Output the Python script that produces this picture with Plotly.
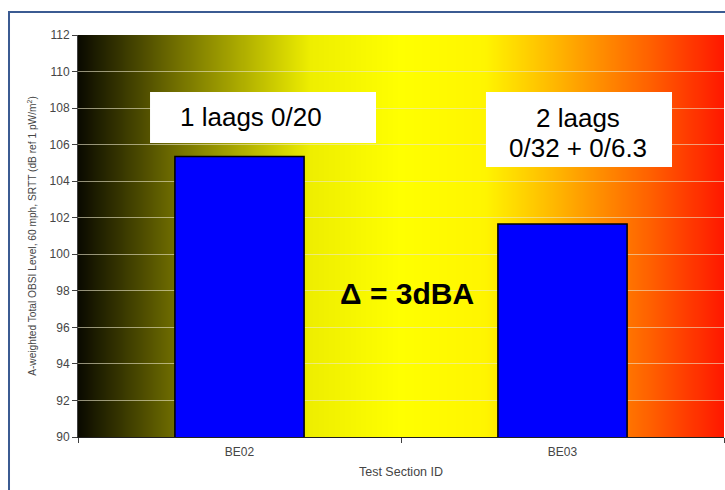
import base64
import struct
import zlib

import numpy as np
import plotly.graph_objects as go

# ---- data -------------------------------------------------------------
sections = ["BE02", "BE03"]
obsi_levels = [105.35, 101.65]          # dB ref 1 pW/m^2

box_lines_1 = ["1 laags 0/20"]
box_lines_2 = ["2 laags", "0/32 + 0/6.3"]
delta_label = "\u0394 = 3dBA"

y_ticks = list(range(90, 113, 2))

# background colour ramp across the plot area (fraction, rgb)
ramp_stops = [
    (0.00, (10, 10, 0)),
    (0.15, (112, 110, 0)),
    (0.36, (238, 238, 0)),
    (0.50, (255, 255, 0)),
    (0.63, (255, 245, 0)),
    (0.75, (255, 176, 0)),
    (0.88, (255, 100, 0)),
    (1.00, (255, 24, 0)),
]

FONT = "Liberation Sans, Arial, sans-serif"
GREY = "#454545"


def ramp_png(width=646, height=4):
    """Horizontal colour ramp encoded as a PNG data URI."""
    xs = np.linspace(0, 1, width)
    fr = [s[0] for s in ramp_stops]
    chans = [np.interp(xs, fr, [s[1][c] for s in ramp_stops]) for c in range(3)]
    row = np.stack(chans, axis=1).round().astype(np.uint8).tobytes()
    raw = b"".join(b"\x00" + row for _ in range(height))

    def chunk(tag, data):
        c = struct.pack(">I", len(data)) + tag + data
        return c + struct.pack(">I", zlib.crc32(tag + data) & 0xFFFFFFFF)

    png = b"\x89PNG\r\n\x1a\n"
    png += chunk(b"IHDR", struct.pack(">IIBBBBB", width, height, 8, 2, 0, 0, 0))
    png += chunk(b"IDAT", zlib.compress(raw, 9))
    png += chunk(b"IEND", b"")
    return "data:image/png;base64," + base64.b64encode(png).decode()


fig = go.Figure()

fig.add_trace(go.Bar(
    x=sections,
    y=obsi_levels,
    width=0.4,
    marker=dict(color="#0000ff", line=dict(color="#000000", width=1.5)),
    hoverinfo="x+y",
))

fig.add_layout_image(dict(
    source=ramp_png(),
    xref="paper", yref="paper",
    x=0, y=1, sizex=1, sizey=1,
    xanchor="left", yanchor="top",
    sizing="stretch", layer="below",
))

# white label boxes (category index on x, dB on y)
for x0, x1, y0, y1 in [(-0.277, 0.4226, 106.09, 108.88),
                       (0.763, 1.339, 104.78, 108.88)]:
    fig.add_shape(type="rect", xref="x", yref="y",
                  x0=x0, x1=x1, y0=y0, y1=y1,
                  fillcolor="#ffffff", line=dict(width=0), layer="above")

label_font = dict(family=FONT, size=26, color="#000000")
fig.add_annotation(x=0.037, y=107.5, xref="x", yref="y",
                   text=box_lines_1[0], showarrow=False, font=label_font)
fig.add_annotation(x=1.047, y=107.45, xref="x", yref="y",
                   text=box_lines_2[0], showarrow=False, font=label_font)
fig.add_annotation(x=1.047, y=105.8, xref="x", yref="y",
                   text=box_lines_2[1], showarrow=False, font=label_font)

fig.add_annotation(
    x=0.519, y=97.88, xref="x", yref="y",
    text="<b>" + delta_label + "</b>", showarrow=False,
    font=dict(family=FONT, size=30, color="#000000"),
)

# outer frame of the chart
fig.add_shape(
    type="rect", xref="paper", yref="paper",
    x0=-0.1068, x1=1.2, y0=-0.3, y1=1.0572,
    line=dict(color="#3b5b92", width=2), fillcolor="rgba(0,0,0,0)",
    layer="above",
)

fig.update_layout(
    width=725, height=490,
    margin=dict(l=78, r=1, t=35, b=53),
    paper_bgcolor="#ffffff",
    plot_bgcolor="#ffffff",
    showlegend=False,
    bargap=0.6,
    font=dict(family=FONT, size=11, color=GREY),
)

fig.update_xaxes(
    type="category",
    tickson="boundaries",
    ticks="outside", ticklen=5, tickcolor="#404040",
    ticklabelstandoff=4,
    showline=True, linecolor="#202020", linewidth=1,
    showgrid=False,
    tickfont=dict(family=FONT, size=12, color=GREY),
    title=dict(text="Test Section ID", font=dict(family=FONT, size=12.5, color=GREY),
               standoff=8),
)

fig.update_yaxes(
    range=[90, 112],
    tickvals=y_ticks,
    ticks="outside", ticklen=5, tickcolor="#404040",
    showline=True, linecolor="#404040", linewidth=1,
    showgrid=True, gridcolor="rgba(235,230,200,0.6)", gridwidth=1.3,
    zeroline=False,
    tickfont=dict(family=FONT, size=12, color=GREY),
    title=dict(text="A-weighted Total OBSI Level, 60 mph, SRTT (dB ref 1 pW/m<sup>2</sup>)",
               font=dict(family=FONT, size=10.2, color=GREY), standoff=10),
)

fig.write_html("out.html")
